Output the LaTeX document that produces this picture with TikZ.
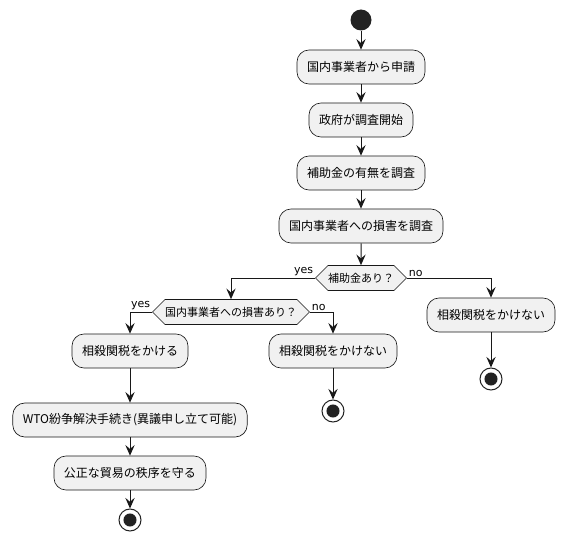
\documentclass[tikz,border=0pt]{standalone}
\usepackage{fontspec}
\setmainfont{Noto Sans CJK JP}
\newfontfamily\labelfont{DejaVu Sans}
\usetikzlibrary{arrows.meta,shapes.symbols}
\definecolor{boxfill}{HTML}{F1F1F1}
\definecolor{boxline}{HTML}{181818}
\definecolor{dotfill}{HTML}{222222}
\tikzset{
  action/.style={rectangle, rounded corners=9pt, draw=boxline, line width=0.5pt, fill=boxfill,
    minimum height=25.5pt, inner xsep=7.5pt, font=\fontsize{9pt}{11pt}\selectfont},
  decision/.style={signal, signal to=west and east, signal pointer angle=90, draw=boxline,
    line width=0.5pt, fill=boxfill, minimum height=18.75pt, inner xsep=0pt, inner ysep=2pt,
    font=\fontsize{8.25pt}{10pt}\selectfont},
  startdot/.style={circle, fill=dotfill, minimum size=15.75pt, inner sep=0pt},
  stopdot/.style={circle, draw=dotfill, line width=0.75pt, fill=white, minimum size=16.5pt, inner sep=0pt,
    path picture={\fill[dotfill] (path picture bounding box.center) circle (4.9pt);}},
  flow/.style={->, draw=boxline, line width=0.75pt},
  branch/.style={font=\labelfont\fontsize{8.25pt}{10pt}\selectfont, inner sep=1pt},
  >={Stealth[length=8pt, width=7pt, inset=3pt]}
}

\begin{document}
\begin{tikzpicture}[node distance=39.75pt]
    \useasboundingbox (0,0) rectangle (423.75pt,-406.5pt);

    \node (start) [startdot] at (270.75pt,-15pt) {};
    \node (apply) [action, below of=start, node distance=35.25pt] {国内事業者から申請};
    \node (survey) [action, below of=apply] {政府が調査開始};
    \node (subsidy) [action, below of=survey] {補助金の有無を調査};
    \node (harm) [action, below of=subsidy] {国内事業者への損害を調査};
    \node (hassub) [decision, below of=harm, node distance=39pt] {補助金あり？};

    % no subsidy
    \node (nosub) [action, below of=hassub, node distance=27.75pt, xshift=97.5pt] {相殺関税をかけない};
    \node (stopa) [stopdot, below of=nosub, node distance=48pt] {};

    % subsidy found
    \node (hasharm) [decision, below of=hassub, node distance=25.5pt, xshift=-97.5pt] {国内事業者への損害あり？};
    \node (levy) [action, below of=hasharm, node distance=29.25pt, xshift=-75.75pt] {相殺関税をかける};
    \node (wto) [action, below of=levy, node distance=51.75pt] {WTO紛争解決手続き(異議申し立て可能)};
    \node (fair) [action, below of=wto] {公正な貿易の秩序を守る};
    \node (stopc) [stopdot, below of=fair, node distance=35.25pt] {};
    \node (noharm) [action, below of=hasharm, node distance=29.25pt, xshift=76.5pt] {相殺関税をかけない};
    \node (stopb) [stopdot, below of=noharm, node distance=45pt] {};

    \draw [flow] (start) -- (apply);
    \draw [flow] (apply) -- (survey);
    \draw [flow] (survey) -- (subsidy);
    \draw [flow] (subsidy) -- (harm);
    \draw [flow] (harm) -- (hassub);
    \draw [flow] (hassub.west) node [branch, anchor=south east] {yes} -| (hasharm.north);
    \draw [flow] (hassub.east) node [branch, anchor=south west] {no} -| (nosub.north);
    \draw [flow] (nosub) -- (stopa);
    \draw [flow] (hasharm.west) node [branch, anchor=south east] {yes} -| (levy.north);
    \draw [flow] (hasharm.east) node [branch, anchor=south west] {no} -| (noharm.north);
    \draw [flow] (levy) -- (wto);
    \draw [flow] (wto) -- (fair);
    \draw [flow] (fair) -- (stopc);
    \draw [flow] (noharm) -- (stopb);
\end{tikzpicture}
\end{document}
